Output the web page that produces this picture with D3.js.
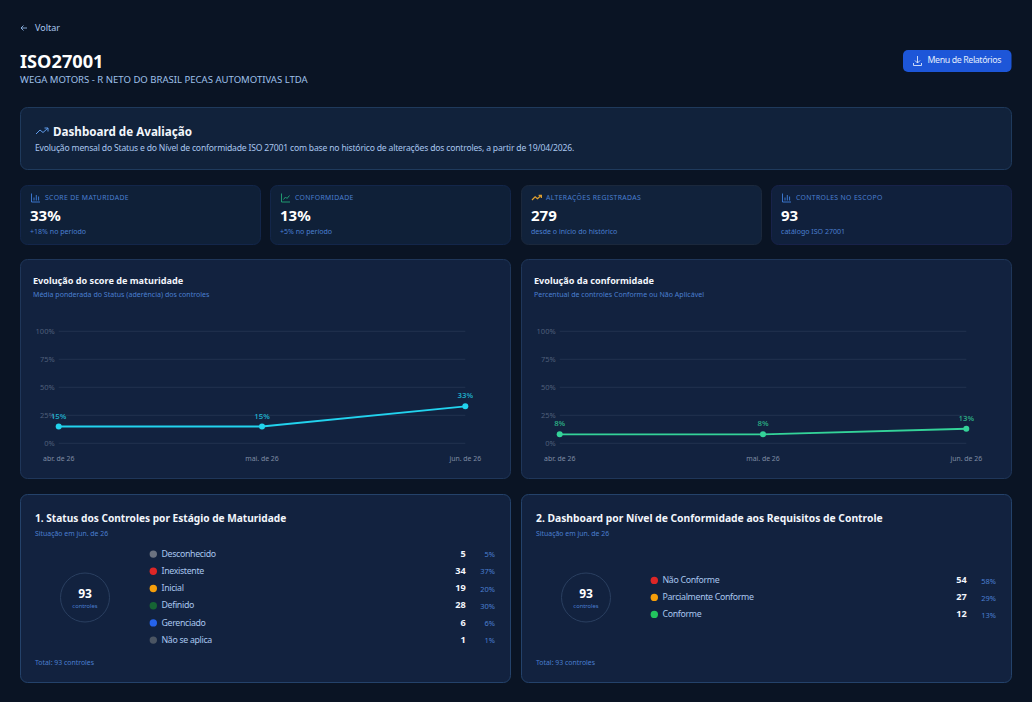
<!DOCTYPE html>
<html lang="pt-BR">
<head>
    <meta charset="UTF-8">
    <title>ISO27001 - Dashboard de Avaliação</title>
    <script src="https://d3js.org/d3.v7.min.js"></script>
    <style>
        html, body {
            margin: 0;
            padding: 0;
            background: #0a1424;
            overflow: hidden;
        }

        svg {
            display: block;
            font-family: "Noto Sans", sans-serif;
        }

        .card { stroke-width: 1px; }
        .grid line { stroke: #22324f; stroke-width: 1px; }
        .tick-label { fill: #4f5f7a; font-size: 7.5px; }
        .month-label { fill: #7f8ca3; font-size: 6.9px; }
        .dim { fill: #4a7fd0; font-size: 7.5px; }
    </style>
</head>
<body>
    <svg id="page" width="1032" height="702"></svg>

    <script>
        const months = ['abr. de 26', 'mai. de 26', 'jun. de 26'];
        const yTicks = [0, 25, 50, 75, 100];
        const scoreValues = [15, 15, 33];
        const conformValues = [8, 8, 13];

        const kpiTitles = ['SCORE DE MATURIDADE', 'CONFORMIDADE', 'ALTERAÇÕES REGISTRADAS', 'CONTROLES NO ESCOPO'];
        const kpiValues = ['33%', '13%', '279', '93'];
        const kpiNotes = ['+18% no período', '+5% no período', 'desde o início do histórico', 'catálogo ISO 27001'];
        const kpiIconColors = ['#3f7fdc', '#22a776', '#e0a030', '#3f7fdc'];

        const statusLabels = ['Desconhecido', 'Inexistente', 'Inicial', 'Definido', 'Gerenciado', 'Não se aplica'];
        const statusCounts = [5, 34, 19, 28, 6, 1];
        const statusColors = ['#6b7280', '#dc2626', '#f59e0b', '#166534', '#2563eb', '#4b5563'];

        const levelLabels = ['Não Conforme', 'Parcialmente Conforme', 'Conforme'];
        const levelCounts = [54, 27, 12];
        const levelColors = ['#dc2626', '#f59e0b', '#22c55e'];

        const svg = d3.select('#page');

        svg.append('rect').attr('width', 1032).attr('height', 702).attr('fill', '#0a1424');

        function label(parent, x, y, str, size, fill, weight, anchor) {
            return parent.append('text')
                .attr('x', x)
                .attr('y', y)
                .attr('font-size', size)
                .attr('fill', fill)
                .attr('font-weight', weight || 400)
                .attr('text-anchor', anchor || 'start')
                .text(str);
        }

        function card(x, y, w, h, fill, stroke) {
            svg.append('rect')
                .attr('class', 'card')
                .attr('x', x + 0.5)
                .attr('y', y + 0.5)
                .attr('width', w)
                .attr('height', h)
                .attr('rx', 7)
                .attr('fill', fill)
                .attr('stroke', stroke);
        }

        function trendIcon(x, y, color, width, scale) {
            const g = svg.append('g')
                .attr('transform', `translate(${x},${y}) scale(${scale || 1})`)
                .attr('fill', 'none')
                .attr('stroke', color)
                .attr('stroke-width', width || 1);
            g.append('path').attr('d', 'M0 7 L4 3 L7 5.5 L12 1');
            g.append('path').attr('d', 'M8.5 1 H12 V4.5');
        }

        function barsIcon(x, y, color) {
            const g = svg.append('g')
                .attr('transform', `translate(${x},${y})`)
                .attr('fill', 'none')
                .attr('stroke', color)
                .attr('stroke-width', 0.9);
            g.append('path').attr('d', 'M0.5 0 V8.5 H9');
            g.append('path').attr('d', 'M3 7 V4 M5.3 7 V1.5 M7.6 7 V3');
        }

        function lineIcon(x, y, color) {
            const g = svg.append('g')
                .attr('transform', `translate(${x},${y})`)
                .attr('fill', 'none')
                .attr('stroke', color)
                .attr('stroke-width', 0.9);
            g.append('path').attr('d', 'M0.5 0 V8.5 H9');
            g.append('path').attr('d', 'M2.5 6 L4.5 3.5 L6 5 L8.5 2');
        }

        // topo da pagina
        svg.append('path')
            .attr('d', 'M27 28 H21 M23.5 25.5 L21 28 L23.5 30.5')
            .attr('fill', 'none')
            .attr('stroke', '#8fb4e6')
            .attr('stroke-width', 0.9);
        label(svg, 35, 31, 'Voltar', 9, '#a9c6ee');
        label(svg, 20, 68, 'ISO27001', 18.2, '#ffffff', 700);
        label(svg, 20, 83, 'WEGA MOTORS - R NETO DO BRASIL PECAS AUTOMOTIVAS LTDA', 9.55, '#9fc0ea');

        svg.append('rect')
            .attr('x', 903).attr('y', 50)
            .attr('width', 108.5).attr('height', 22)
            .attr('rx', 5)
            .attr('fill', '#1d56d8');
        svg.append('path')
            .attr('d', 'M917.5 56 V63 M915 60.5 L917.5 63 L920 60.5 M913.5 63 V65.5 H921.5 V63')
            .attr('fill', 'none')
            .attr('stroke', '#dbe7fb')
            .attr('stroke-width', 0.9);
        label(svg, 927.5, 63, 'Menu de Relatórios', 8.8, '#e3edfc', 400)
            .attr('letter-spacing', -0.38);

        // faixa do titulo
        card(20, 107, 991, 62, '#11223b', '#1f3a5c');
        trendIcon(36, 127, '#5f9bea', 1);
        label(svg, 53, 136, 'Dashboard de Avaliação', 11.65, '#f2f6fc', 700);
        label(svg, 35, 151,
            'Evolução mensal do Status e do Nível de conformidade ISO 27001 com base no histórico de alterações dos controles, a partir de 19/04/2026.',
            8.6, '#a9c6ee')
            .attr('letter-spacing', -0.19);

        // cartoes de indicadores
        const kpiX = [20, 270, 521, 771];
        const kpiFills = ['#0f2038', '#0f2038', '#11223b', '#10203c'];
        const kpiStrokes = ['#13264a', '#13264a', '#1b283c', '#18224a'];
        kpiTitles.forEach((title, i) => {
            const x = kpiX[i];
            card(x, 185, 240, 59, kpiFills[i], kpiStrokes[i]);
            if (i === 1) lineIcon(x + 11, 193.5, kpiIconColors[i]);
            else if (i === 2) trendIcon(x + 11, 194.5, kpiIconColors[i], 1.6, 0.78);
            else barsIcon(x + 11, 193.5, kpiIconColors[i]);
            label(svg, x + 25, 200, title, 6.85, '#4a7fd0').attr('letter-spacing', 0.35);
            label(svg, x + 10, 221, kpiValues[i], 15, '#ffffff', 700);
            label(svg, x + 10, 234, kpiNotes[i], 7.05, '#4a7fd0');
        });

        function lineChart(x0, title, subtitle, values, color) {
            card(x0, 259, 490, 219, '#12223f', '#1f3659');
            label(svg, x0 + 13, 284, title, 9.1, '#f2f6fc', 700);
            label(svg, x0 + 13, 297, subtitle, 7.05, '#4a7fd0');

            const x = d3.scalePoint().domain(months).range([x0 + 38.7, x0 + 445.3]);
            const y = d3.scaleLinear().domain([0, 100]).range([443.3, 331.3]);

            const grid = svg.append('g').attr('class', 'grid');
            grid.selectAll('line')
                .data(yTicks)
                .enter().append('line')
                .attr('x1', x.range()[0])
                .attr('x2', x.range()[1])
                .attr('y1', d => y(d))
                .attr('y2', d => y(d));
            grid.selectAll('text')
                .data(yTicks)
                .enter().append('text')
                .attr('class', 'tick-label')
                .attr('x', x.range()[0] - 4)
                .attr('y', d => y(d) + 2.6)
                .attr('text-anchor', 'end')
                .text(d => d + '%');

            svg.append('g').selectAll('text')
                .data(months)
                .enter().append('text')
                .attr('class', 'month-label')
                .attr('x', d => x(d))
                .attr('y', 461)
                .attr('text-anchor', 'middle')
                .text(d => d);

            const line = d3.line()
                .x((d, i) => x(months[i]))
                .y(d => y(d));
            svg.append('path')
                .datum(values)
                .attr('d', line)
                .attr('fill', 'none')
                .attr('stroke', color)
                .attr('stroke-width', 1.8);

            const points = svg.append('g');
            points.selectAll('circle')
                .data(values)
                .enter().append('circle')
                .attr('cx', (d, i) => x(months[i]))
                .attr('cy', d => y(d))
                .attr('r', 3)
                .attr('fill', color);
            points.selectAll('text')
                .data(values)
                .enter().append('text')
                .attr('x', (d, i) => x(months[i]))
                .attr('y', d => y(d) - 8)
                .attr('text-anchor', 'middle')
                .attr('font-size', 7.8)
                .attr('font-weight', 500)
                .attr('fill', color)
                .attr('fill-opacity', 0.85)
                .text(d => d + '%');
        }

        lineChart(20, 'Evolução do score de maturidade', 'Média ponderada do Status (aderência) dos controles', scoreValues, '#22d3ee');
        lineChart(521, 'Evolução da conformidade', 'Percentual de controles Conforme ou Não Aplicável', conformValues, '#34d399');

        function statusCard(x0, title, titleSize, labels, counts, colors, rowRange) {
            card(x0, 494, 490, 188, '#12223f', '#24426a');
            label(svg, x0 + 15, 522, title, titleSize, '#f2f6fc', 700);
            label(svg, x0 + 15, 536, 'Situação em jun. de 26', 6.9, '#4a7fd0');
            label(svg, x0 + 15, 665, 'Total: 93 controles', 6.9, '#4a7fd0');

            const total = d3.sum(counts);
            svg.append('circle')
                .attr('cx', x0 + 65)
                .attr('cy', 597.5)
                .attr('r', 24.5)
                .attr('fill', 'none')
                .attr('stroke', '#2a3f60');
            label(svg, x0 + 65, 598, total, 12, '#ffffff', 700, 'middle');
            label(svg, x0 + 65, 608, 'controles', 5.8, '#4a7fd0', 400, 'middle');

            const y = d3.scalePoint().domain(labels).range(rowRange);
            const rows = svg.append('g').selectAll('g')
                .data(labels)
                .enter().append('g')
                .attr('transform', d => `translate(0,${y(d)})`);
            rows.append('circle')
                .attr('cx', x0 + 133.3)
                .attr('cy', 0.4)
                .attr('r', 3.7)
                .attr('fill', (d, i) => colors[i]);
            rows.append('text')
                .attr('x', x0 + 141.5)
                .attr('y', 3)
                .attr('font-size', 8.8)
                .attr('letter-spacing', -0.33)
                .attr('fill', '#a9c6ee')
                .text(d => d);
            rows.append('text')
                .attr('x', x0 + 445.7)
                .attr('y', 3)
                .attr('font-size', 9.2)
                .attr('font-weight', 700)
                .attr('fill', '#f2f6fc')
                .attr('text-anchor', 'end')
                .text((d, i) => counts[i]);
            rows.append('text')
                .attr('class', 'dim')
                .attr('x', x0 + 475)
                .attr('y', 3.5)
                .attr('text-anchor', 'end')
                .text((d, i) => Math.round(counts[i] / total * 100) + '%');
        }

        statusCard(20, '1. Status dos Controles por Estágio de Maturidade', 10.15, statusLabels, statusCounts, statusColors, [553.7, 639.7]);
        statusCard(521, '2. Dashboard por Nível de Conformidade aos Requisitos de Controle', 10.3, levelLabels, levelCounts, levelColors, [580, 614]);
    </script>
</body>
</html>
